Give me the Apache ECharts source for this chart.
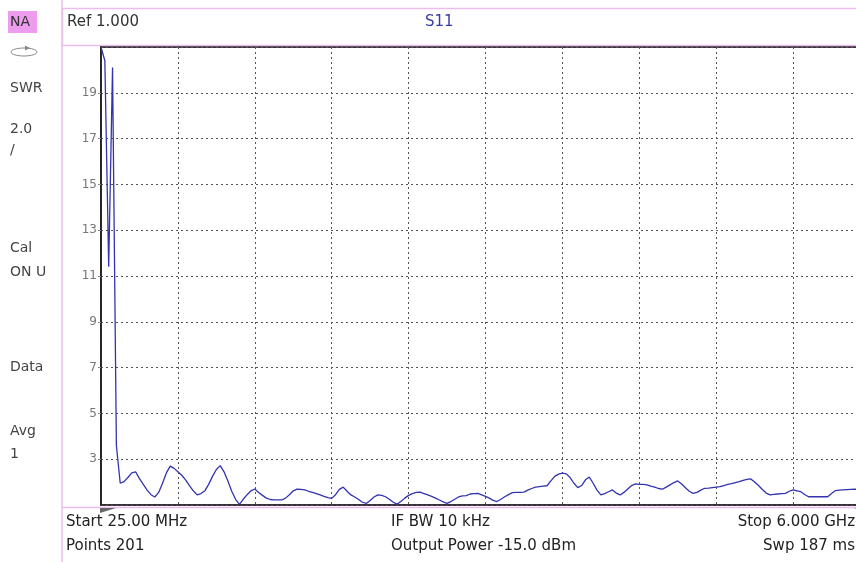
<!DOCTYPE html>
<html>
<head>
<meta charset="utf-8">
<script src="https://cdn.jsdelivr.net/npm/echarts@6/dist/echarts.min.js"></script>
<style>
  html, body { margin: 0; padding: 0; background: #fff; overflow: hidden; }
  /* the screen is cut at 856px; the 10th division runs on to 870px */
  #chart { width: 870px; height: 562px; }
</style>
</head>
<body>
<div id="chart"></div>
<script>
// SWR trace, 201 points from 25 MHz to 6 GHz (x = point number)
const swr = [
  21.0, 20.4, 11.4, 20.1, 3.6, 1.95, 2.02, 2.2, 2.4, 2.45,
  2.15, 1.9, 1.65, 1.45, 1.35, 1.55, 1.95, 2.4, 2.7, 2.6,
  2.45, 2.3, 2.1, 1.85, 1.62, 1.44, 1.5, 1.62, 1.9, 2.25,
  2.55, 2.72, 2.45, 2.05, 1.6, 1.25, 1.03, 1.25, 1.45, 1.62,
  1.7, 1.55, 1.42, 1.3, 1.24, 1.22, 1.22, 1.22, 1.3, 1.45,
  1.62, 1.69, 1.68, 1.66, 1.6, 1.55, 1.5, 1.44, 1.38, 1.32,
  1.29, 1.45, 1.68, 1.78, 1.6, 1.44, 1.35, 1.24, 1.12, 1.07,
  1.2, 1.35, 1.44, 1.42, 1.36, 1.25, 1.12, 1.04, 1.15, 1.3,
  1.42, 1.5, 1.55, 1.56, 1.5, 1.44, 1.38, 1.3, 1.22, 1.14,
  1.07, 1.15, 1.25, 1.35, 1.4, 1.41, 1.48, 1.5, 1.51, 1.44,
  1.38, 1.3, 1.2, 1.15, 1.25, 1.36, 1.45, 1.54, 1.55, 1.55,
  1.56, 1.65, 1.72, 1.78, 1.8, 1.82, 1.84, 2.05, 2.25, 2.35,
  2.39, 2.36, 2.2, 1.95, 1.76, 1.85, 2.1, 2.22, 1.95, 1.65,
  1.44, 1.5, 1.58, 1.66, 1.52, 1.44, 1.55, 1.7, 1.85, 1.92,
  1.9, 1.9, 1.88, 1.82, 1.78, 1.72, 1.69, 1.78, 1.88, 1.98,
  2.05, 1.92, 1.75, 1.6, 1.51, 1.55, 1.65, 1.73, 1.74, 1.76,
  1.78, 1.8, 1.85, 1.9, 1.93, 1.98, 2.02, 2.08, 2.12, 2.14,
  2.0, 1.85, 1.68, 1.52, 1.44, 1.46, 1.48, 1.5, 1.51, 1.6,
  1.66, 1.62, 1.58, 1.46, 1.36, 1.36, 1.36, 1.36, 1.36, 1.36,
  1.5, 1.63, 1.65, 1.66, 1.67, 1.68, 1.69, 1.68, 1.66, 1.64,
  1.62
];

// side panel and header / footer texts
const sideLabels = [
  ['SWR', 88], ['2.0', 129], ['/', 150], ['Cal', 248], ['ON U', 272],
  ['Data', 367], ['Avg', 431], ['1', 454]
];
const footLeft = ['Start 25.00 MHz', 'Points 201'];
const footMid = ['IF BW 10 kHz', 'Output Power -15.0 dBm'];
const footRight = ['Stop 6.000 GHz', 'Swp 187 ms'];

const font = '"DejaVu Sans", sans-serif';
const pink = '#ecbcec';

function txt(text, x, y, size, color, align) {
  return {
    type: 'text', silent: true,
    style: {
      text: text, x: x, y: y, font: size + 'px ' + font, fill: color,
      align: align || 'left', textAlign: align || 'left',
      verticalAlign: 'middle', textVerticalAlign: 'middle'
    }
  };
}

const graphics = [
  // header box
  { type: 'rect', shape: { x: 62.5, y: 8.5, width: 820, height: 37 },
    style: { fill: '#fff', stroke: pink, lineWidth: 1.5 } },
  // left panel divider
  { type: 'line', shape: { x1: 62, y1: 0, x2: 62, y2: 562 },
    style: { stroke: pink, lineWidth: 1.5 } },
  // footer divider
  { type: 'line', shape: { x1: 62, y1: 507.5, x2: 870, y2: 507.5 },
    style: { stroke: pink, lineWidth: 1.5 } },
  // NA highlight
  { type: 'rect', shape: { x: 8, y: 11, width: 29, height: 22 },
    style: { fill: '#ee9cee' } },
  txt('NA', 10, 22, 14, '#333'),
  // sweep icon
  { type: 'ellipse', shape: { cx: 24, cy: 52, rx: 13, ry: 4 },
    style: { fill: 'none', stroke: '#888', lineWidth: 1 } },
  { type: 'polygon', shape: { points: [[25, 45.5], [30, 48], [25, 50.5]] },
    style: { fill: '#888' } },
  txt('Ref 1.000', 67, 22, 15, '#333'),
  txt('S11', 425, 22, 15, '#3a3aaa'),
  // start / stop markers
  { type: 'polygon', shape: { points: [[100, 508], [116, 508], [100, 513]] },
    style: { fill: '#666' } },
  { type: 'polygon', shape: { points: [[870, 508], [854, 508], [870, 513]] },
    style: { fill: '#666' } }
];
sideLabels.forEach(function (s) { graphics.push(txt(s[0], 10, s[1], 14, '#444')); });
footLeft.forEach(function (s, i) { graphics.push(txt(s, 66, 522 + i * 24, 15, '#222')); });
footMid.forEach(function (s, i) { graphics.push(txt(s, 391, 522 + i * 24, 15, '#222')); });
footRight.forEach(function (s, i) { graphics.push(txt(s, 855, 522 + i * 24, 15, '#222', 'right')); });

const chart = echarts.init(document.getElementById('chart'));
chart.setOption({
  animation: false,
  backgroundColor: '#fff',
  grid: {
    left: 101, right: 0, top: 47, bottom: 57,
    show: true, borderColor: '#3a2f3a', borderWidth: 2
  },
  xAxis: {
    type: 'value', min: 0, max: 200, interval: 20,
    axisLine: { show: false },
    axisTick: { show: false },
    axisLabel: { show: false },
    splitLine: { lineStyle: { color: '#555', type: [2, 3], width: 1 } }
  },
  yAxis: {
    type: 'value', min: 1, max: 21, interval: 2,
    axisLine: { show: true, lineStyle: { color: '#222', width: 1.5 } },
    axisTick: { show: true, length: 3, lineStyle: { color: '#888' } },
    axisLabel: {
      color: '#777', fontSize: 12, fontFamily: font, margin: 4,
      showMinLabel: false, showMaxLabel: false
    },
    splitLine: { lineStyle: { color: '#555', type: [2, 3], width: 1 } }
  },
  series: [{
    type: 'line',
    data: swr.map(function (v, i) { return [i, v]; }),
    showSymbol: false,
    clip: true,
    lineStyle: { color: '#3333b0', width: 1.3 }
  }],
  graphic: graphics
});
</script>
</body>
</html>
